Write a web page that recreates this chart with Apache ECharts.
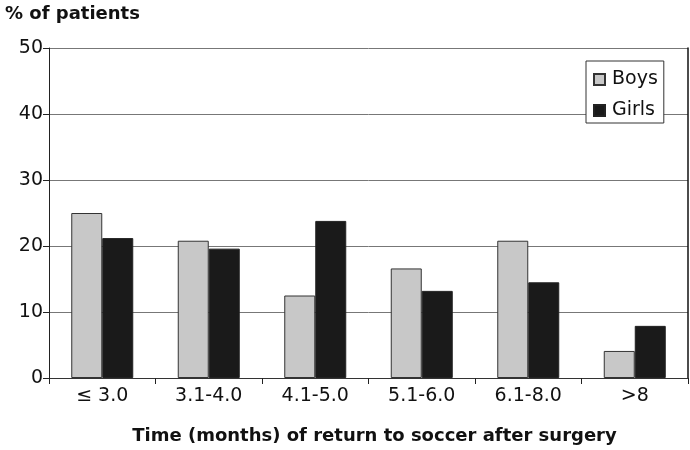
<!DOCTYPE html>
<html>
<head>
<meta charset="utf-8">
<script src="https://cdn.jsdelivr.net/npm/echarts@6/dist/echarts.min.js"></script>
<style>html,body{margin:0;padding:0;background:#fff}#c{width:690px;height:450px}</style>
</head>
<body>
<div id="c"></div>
<script>
var categories = ['\u2264 3.0', '3.1-4.0', '4.1-5.0', '5.1-6.0', '6.1-8.0', '>8'];
var boys = [25.0, 20.8, 12.5, 16.6, 20.8, 4.1];
var girls = [21.2, 19.6, 23.8, 13.2, 14.5, 7.9];
var yTicks = [0, 10, 20, 30, 40, 50];

var FONT = "'DejaVu Sans', 'Liberation Sans', Arial, sans-serif";
var chart = echarts.init(document.getElementById('c'), null, {renderer: 'canvas'});
chart.setOption({
  animation: false,
  backgroundColor: '#fff',
  textStyle: {fontFamily: FONT},
  title: {
    text: '% of patients', left: 0, top: 0,
    textStyle: {fontFamily: FONT, fontSize: 18, fontWeight: 'bold', color: '#111'}
  },
  legend: {
    orient: 'vertical', left: 586, top: 61, icon: 'rect',
    backgroundColor: '#fff', borderColor: '#333', borderWidth: 1,
    padding: [9, 6, 3, 7], itemGap: 12, itemWidth: 11, itemHeight: 11,
    textStyle: {fontFamily: FONT, fontSize: 19, color: '#111', padding: [0, 0, 0, 2]},
    data: ['Boys', 'Girls']
  },
  grid: {left: 49, right: 2, top: 48, bottom: 70},
  xAxis: [{
    type: 'category', data: categories,
    name: 'Time (months) of return to soccer after surgery',
    nameLocation: 'middle', nameGap: 49,
    nameTextStyle: {fontFamily: FONT, fontSize: 18, fontWeight: 'bold', color: '#111', padding: [0, 0, 0, 12]},
    axisLine: {lineStyle: {color: '#222', width: 1}},
    axisTick: {show: true, length: 6, inside: false, lineStyle: {color: '#222'}},
    axisLabel: {fontFamily: FONT, fontSize: 19, color: '#111', margin: 9}
  }, {
    type: 'category', data: categories, position: 'top',
    axisLine: {show: true, lineStyle: {color: '#333', width: 1}},
    axisTick: {show: false}, axisLabel: {show: false}, splitLine: {show: false}
  }],
  yAxis: [{
    type: 'value', min: yTicks[0], max: yTicks[yTicks.length - 1], interval: 10,
    axisLine: {show: true, lineStyle: {color: '#222', width: 1}},
    axisTick: {show: true, length: 6, lineStyle: {color: '#222'}},
    axisLabel: {fontFamily: FONT, fontSize: 19, color: '#111', margin: 6},
    splitLine: {show: true, lineStyle: {color: '#777', width: 1}}
  }, {
    type: 'value', min: yTicks[0], max: yTicks[yTicks.length - 1], interval: 10, position: 'right',
    axisLine: {show: true, lineStyle: {color: '#111', width: 1.5}},
    axisTick: {show: false}, axisLabel: {show: false}, splitLine: {show: false}
  }],
  series: [{
    name: 'Boys', type: 'bar', data: boys, barWidth: 31, barGap: '0%',
    itemStyle: {color: '#c8c8c8', borderColor: '#333', borderWidth: 1}
  }, {
    name: 'Girls', type: 'bar', data: girls, barWidth: 31, barGap: '0%',
    itemStyle: {color: '#1a1a1a', borderColor: '#222', borderWidth: 1}
  }]
});
</script>
</body>
</html>
